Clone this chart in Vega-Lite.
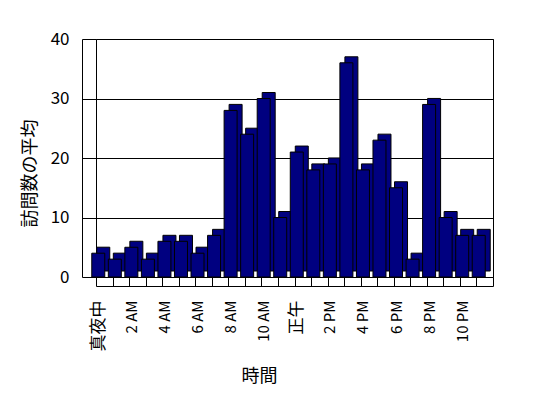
{
  "$schema": "https://vega.github.io/schema/vega-lite/v6.json",
  "autosize": "none",
  "width": 397,
  "height": 238,
  "padding": {"left": 96, "top": 39, "right": 55, "bottom": 121},
  "background": "white",
  "config": {
    "view": {"stroke": "black", "strokeWidth": 1, "fill": "white"},
    "font": "Noto Sans CJK JP",
    "axis": {
      "domainColor": "black",
      "tickColor": "black",
      "labelColor": "black",
      "titleColor": "black",
      "labelFont": "Noto Sans CJK JP",
      "titleFont": "Noto Sans CJK JP",
      "titleFontWeight": "normal"
    }
  },
  "data": {
    "values": [
      {"hour": "真夜中", "visits": 4},
      {"hour": "1 AM", "visits": 3},
      {"hour": "2 AM", "visits": 5},
      {"hour": "3 AM", "visits": 3},
      {"hour": "4 AM", "visits": 6},
      {"hour": "5 AM", "visits": 6},
      {"hour": "6 AM", "visits": 4},
      {"hour": "7 AM", "visits": 7},
      {"hour": "8 AM", "visits": 28},
      {"hour": "9 AM", "visits": 24},
      {"hour": "10 AM", "visits": 30},
      {"hour": "11 AM", "visits": 10},
      {"hour": "正午", "visits": 21},
      {"hour": "1 PM", "visits": 18},
      {"hour": "2 PM", "visits": 19},
      {"hour": "3 PM", "visits": 36},
      {"hour": "4 PM", "visits": 18},
      {"hour": "5 PM", "visits": 23},
      {"hour": "6 PM", "visits": 15},
      {"hour": "7 PM", "visits": 3},
      {"hour": "8 PM", "visits": 29},
      {"hour": "9 PM", "visits": 10},
      {"hour": "10 PM", "visits": 7},
      {"hour": "11 PM", "visits": 7}
    ]
  },
  "encoding": {
    "x": {
      "field": "hour",
      "type": "ordinal",
      "sort": null,
      "scale": {"paddingInner": 0, "paddingOuter": 0},
      "axis": {
        "title": "時間",
        "titleFontSize": 18,
        "titleX": 163,
        "titleY": 90,
        "titleBaseline": "middle",
        "titleAlign": "center",
        "labelAngle": -90,
        "labelAlign": "right",
        "labelBaseline": "middle",
        "labelFontSize": {"condition": {"test": "datum.value == '真夜中' || datum.value == '正午'", "value": 17}, "value": 15},
        "labelOffset": -6,
        "labelPadding": 23,
        "labelOverlap": false,
        "labelBound": false,
        "labelExpr": "indexof(['真夜中','2 AM','4 AM','6 AM','8 AM','10 AM','正午','2 PM','4 PM','6 PM','8 PM','10 PM'], datum.value) >= 0 ? datum.value : ''",
        "offset": 9,
        "tickBand": "extent",
        "tickSize": -9,
        "grid": false
      }
    },
    "y": {
      "field": "visits",
      "type": "quantitative",
      "scale": {"domain": [0, 40], "nice": false},
      "axis": {
        "title": "訪問数の平均",
        "titleFontSize": 18,
        "titleAngle": -90,
        "titleX": -52,
        "titleY": 134,
        "titleBaseline": "middle",
        "titleAlign": "center",
        "values": [0, 10, 20, 30, 40],
        "offset": 14,
        "tickSize": -14,
        "labelPadding": 27,
        "labelFontSize": 17,
        "grid": true,
        "gridColor": "black",
        "gridOpacity": 1,
        "gridWidth": 1
      }
    }
  },
  "layer": [
    {"mark": {"type": "bar", "width": 13, "xOffset": -1, "yOffset": -6, "fill": "#000080", "stroke": "black", "strokeWidth": 1}},
    {"mark": {"type": "bar", "width": 13, "xOffset": -6, "fill": "#000080", "stroke": "black", "strokeWidth": 1}}
  ]
}
